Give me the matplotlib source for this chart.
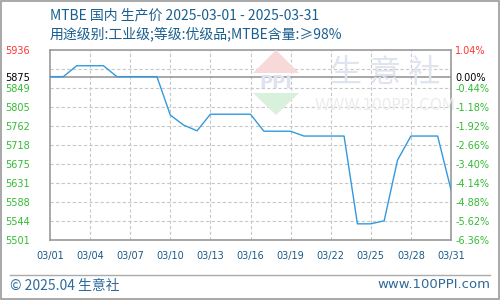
import matplotlib
matplotlib.use("Agg")
import matplotlib.pyplot as plt
from matplotlib.patches import Polygon, Rectangle
from matplotlib.lines import Line2D

plt.rcParams['font.family'] = ['Noto Sans CJK SC', 'DejaVu Sans']

# ---- data ----
dates = ["03/%02d" % d for d in range(1, 32)]
prices = [5875, 5875, 5900, 5900, 5900, 5875, 5875, 5875, 5875, 5787,
          5764, 5751, 5789, 5789, 5789, 5789, 5750, 5750, 5750, 5739,
          5739, 5739, 5739, 5538, 5538, 5545, 5684, 5739, 5739, 5739,
          5616]
xtick_labels = ["03/01", "03/04", "03/07", "03/10", "03/13", "03/16",
                "03/19", "03/22", "03/25", "03/28", "03/31"]
base_price = 5875
y_min, y_max = 5501, 5936
left_labels = ["5936", "5875", "5849", "5805", "5762", "5718", "5675",
               "5631", "5588", "5544", "5501"]
right_labels = ["1.04%", "0.00%", "-0.44%", "-1.18%", "-1.92%", "-2.66%",
                "-3.40%", "-4.14%", "-4.88%", "-5.62%", "-6.36%"]
title1 = "MTBE 国内 生产价 2025-03-01 - 2025-03-31"
title2 = "用途级别:工业级;等级:优级品;MTBE含量:≥98%"

fig = plt.figure(figsize=(5, 3), dpi=100)
fig.patch.set_facecolor("white")
W, H = 500, 300

def fx(x):
    return x / W

def fy(y):
    return 1 - y / H

ax = fig.add_axes([fx(50), fy(240), fx(451) - fx(50), fy(50) - fy(240)])
x = list(range(len(dates)))
ax.set_xlim(0, len(dates) - 1)
ax.set_ylim(y_min, y_max)

# watermark
wm_col = "#dfe4ee"
fig.patches.append(Polygon([[fx(276), fy(50)], [fx(253), fy(73)], [fx(299), fy(73)]],
                           closed=True, transform=fig.transFigure,
                           facecolor="#f7d9d9", edgecolor="none", zorder=0))
fig.patches.append(Polygon([[fx(276), fy(115)], [fx(253), fy(93)], [fx(299), fy(93)]],
                           closed=True, transform=fig.transFigure,
                           facecolor="#d9f0dc", edgecolor="none", zorder=0))
fig.text(fx(276), fy(83), "PPI", ha="center", va="center", fontsize=13,
         color="#dde3f0", family=["DejaVu Sans"], fontweight="bold", zorder=0)
fig.text(fx(385), fy(73), "生 意 社", ha="center", va="center", fontsize=23,
         color=wm_col, zorder=0)
fig.text(fx(385), fy(106), "WWW.100PPI.COM", ha="center", va="center",
         fontsize=11, color="#ececec", family=["DejaVu Sans"], zorder=0)
ax.patch.set_alpha(0)

# grid
step = (y_max - y_min) / 10
for i in range(1, 10):
    ax.axhline(y_min + i * step, color="#c8c8c8", lw=0.8, ls=(0, (3, 2)), zorder=1)
xt = list(range(0, len(dates), 3))
for xi in xt[1:-1]:
    ax.axvline(xi, color="#c8c8c8", lw=0.8, ls=(0, (3, 2)), zorder=1)
ax.axhline(base_price, color="#999999", lw=1.2, zorder=2)

ax.plot(x, prices, color="#3399dd", lw=1.0, zorder=3)

for s in ax.spines.values():
    s.set_color("#999999")
    s.set_linewidth(1.2)

ax.set_xticks(xt)
ax.set_xticklabels(xtick_labels, fontsize=7, color="#1a5a8a",
                   family=["DejaVu Sans"])
ax.tick_params(axis="x", length=0, pad=8)

ytick_pos = [y_max, base_price] + [y_min + i * step for i in range(8, -1, -1)]
ax.set_yticks(ytick_pos)
ax.set_yticklabels(left_labels, fontsize=7, family=["DejaVu Sans"])
ax.tick_params(axis="y", length=0, pad=32)
cols = ["#ff3333", "#000000"] + ["#33bb33"] * 9
for lbl, c in zip(ax.get_yticklabels(), cols):
    lbl.set_horizontalalignment("left")
    lbl.set_color(c)

ax2 = ax.twinx()
ax2.set_ylim(y_min, y_max)
ax2.set_yticks(ytick_pos)
ax2.set_yticklabels(right_labels, fontsize=7, family=["DejaVu Sans"])
ax2.tick_params(axis="y", length=0, pad=3)
for lbl, c in zip(ax2.get_yticklabels(), cols):
    lbl.set_color(c)
for s in ax2.spines.values():
    s.set_visible(False)

# titles
tcol = "#1a5f8f"
fig.text(fx(50), fy(15), title1, fontsize=10, color=tcol, va="center", ha="left")
fig.text(fx(50), fy(34), title2, fontsize=10, color=tcol, va="center", ha="left")

# footer
fig.add_artist(Line2D([fx(10), fx(490)], [fy(275), fy(275)],
                      transform=fig.transFigure, color="#aaaaaa", lw=1))
fig.text(fx(10), fy(286), "© 2025.04 生意社", fontsize=10, color="#2e6a9a",
         va="center", ha="left")
fig.text(fx(490), fy(285), "www.100PPI.com", fontsize=9.5, color="#2e6a9a",
         va="center", ha="right", family=["DejaVu Sans"])

# outer border
fig.patches.append(Rectangle((0.001, 0.002), 0.997, 0.996, transform=fig.transFigure,
                             fill=False, edgecolor="#999999", lw=1.2))

fig.savefig("out.png", dpi=100)
